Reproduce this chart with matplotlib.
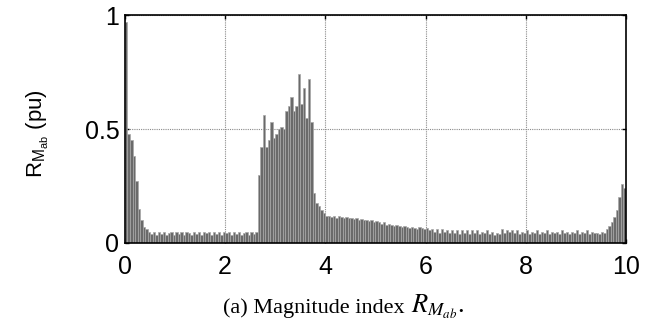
import matplotlib
matplotlib.use("Agg")
import matplotlib.pyplot as plt
import numpy as np

plt.rcParams['font.family'] = ['Liberation Sans', 'DejaVu Sans']
plt.rcParams['mathtext.fontset'] = 'stix'

bin_width = 0.05
values = [
    0.97, 0.48, 0.45, 0.38, 0.27, 0.15, 0.10, 0.07, 0.06, 0.05,
    0.04, 0.05, 0.035, 0.05, 0.04, 0.05, 0.035, 0.045, 0.05, 0.035,
    0.05, 0.04, 0.05, 0.035, 0.05, 0.045, 0.035, 0.05, 0.04, 0.05,
    0.035, 0.05, 0.045, 0.05, 0.035, 0.05, 0.04, 0.05, 0.035, 0.05,
    0.045, 0.05, 0.035, 0.05, 0.04, 0.05, 0.035, 0.045, 0.05, 0.035,
    0.05, 0.04, 0.05, 0.30, 0.42, 0.56, 0.42, 0.45, 0.53, 0.46,
    0.48, 0.50, 0.51, 0.50, 0.58, 0.60, 0.64, 0.58, 0.60, 0.74,
    0.61, 0.68, 0.55, 0.72, 0.53, 0.22, 0.175, 0.16, 0.145, 0.13,
    0.12, 0.12, 0.115, 0.12, 0.11, 0.12, 0.115, 0.11, 0.115, 0.11,
    0.11, 0.105, 0.11, 0.10, 0.105, 0.10, 0.10, 0.095, 0.10, 0.09,
    0.095, 0.09, 0.085, 0.09, 0.08, 0.085, 0.08, 0.075, 0.08, 0.075,
    0.07, 0.075, 0.07, 0.065, 0.07, 0.065, 0.06, 0.07, 0.065, 0.06,
    0.065, 0.055, 0.06, 0.05, 0.06, 0.045, 0.06, 0.05, 0.055, 0.045,
    0.055, 0.045, 0.055, 0.04, 0.055, 0.045, 0.055, 0.04, 0.055, 0.045,
    0.055, 0.04, 0.05, 0.045, 0.055, 0.04, 0.05, 0.035, 0.045, 0.04,
    0.06, 0.045, 0.055, 0.05, 0.055, 0.045, 0.055, 0.04, 0.05, 0.045,
    0.055, 0.04, 0.05, 0.045, 0.055, 0.04, 0.05, 0.045, 0.055, 0.04,
    0.05, 0.045, 0.05, 0.04, 0.055, 0.045, 0.05, 0.04, 0.05, 0.045,
    0.055, 0.04, 0.05, 0.045, 0.055, 0.04, 0.05, 0.045, 0.045, 0.04,
    0.05, 0.045, 0.06, 0.075, 0.09, 0.115, 0.145, 0.20, 0.26, 0.24,
]
x_ticks = [0, 2, 4, 6, 8, 10]
y_ticks = [0, 0.5, 1]
y_tick_labels = ['0', '0.5', '1']

x_left = np.arange(len(values)) * bin_width

fig = plt.figure(figsize=(6.52, 3.27), dpi=100)
ax = fig.add_axes([0.1917, 0.257, 0.7683, 0.697])
ax.bar(x_left, values, width=bin_width, align='edge',
       facecolor='#6a6a6a', edgecolor='#a8a8a8', linewidth=0.5, zorder=2)

ax.set_xlim(0, 10)
ax.set_ylim(0, 1)
ax.set_xticks(x_ticks)
ax.set_yticks(y_ticks)
ax.set_yticklabels(y_tick_labels)
ax.tick_params(direction='in', length=3, width=1, labelsize=18,
               top=True, right=True, colors='black')
ax.tick_params(axis='x', pad=9)
ax.tick_params(axis='y', pad=4)
ax.grid(True, color='#8a8a8a', linestyle=(0, (1, 1)), linewidth=0.8, zorder=0)
ax.set_axisbelow(True)
for s in ax.spines.values():
    s.set_linewidth(1.2)

ax.set_ylabel(r'$\mathregular{R_{M_{ab}}}$ (pu)', fontsize=16)
ax.yaxis.set_label_coords(-0.148, 0.48)

serif = ['Liberation Serif', 'DejaVu Serif']
fig.text(0.621, 0.042, '(a) Magnitude index', fontsize=16, family=serif,
         ha='right', va='baseline')
fig.text(0.630, 0.042, r'$R_{M_{ab}}$.', fontsize=19, family=serif,
         ha='left', va='baseline')

fig.savefig('out.png', dpi=100)
